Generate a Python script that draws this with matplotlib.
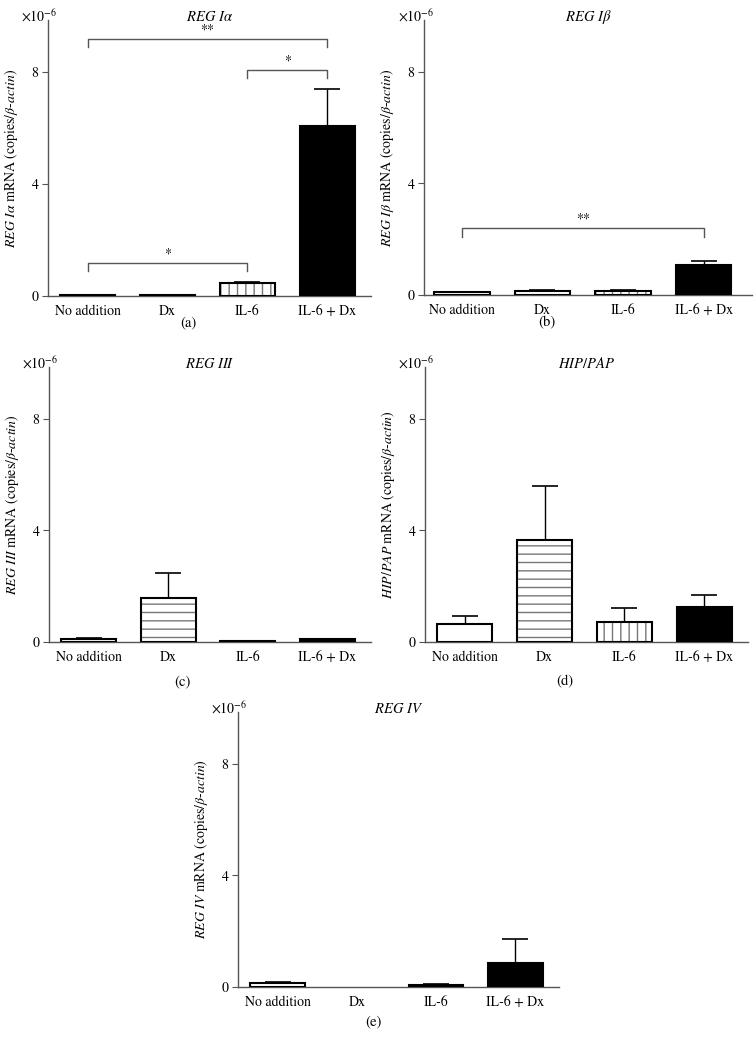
import matplotlib
matplotlib.use('Agg')
import matplotlib.pyplot as plt

plt.rcParams['font.family'] = 'STIXGeneral'
plt.rcParams['mathtext.fontset'] = 'stix'
plt.rcParams['font.size'] = 10
plt.rcParams['hatch.linewidth'] = 1.0

groups = ['No addition', 'Dx', 'IL-6', 'IL-6 + Dx']

# values in units of 1e-6 copies/beta-actin
reg1a_mean = [0.02, 0.02, 0.45, 6.07]
reg1a_err = [0.0, 0.0, 0.06, 1.32]
reg1b_mean = [0.09, 0.15, 0.14, 1.07]
reg1b_err = [0.03, 0.04, 0.05, 0.14]
reg3_mean = [0.10, 1.57, 0.02, 0.10]
reg3_err = [0.05, 0.89, 0.0, 0.02]
hip_mean = [0.64, 3.66, 0.71, 1.27]
hip_err = [0.28, 1.94, 0.50, 0.41]
reg4_mean = [0.13, 0.0, 0.08, 0.86]
reg4_err = [0.05, 0.0, 0.02, 0.85]

# significance brackets: (from, to, height, leg bottom, label)
reg1a_sig = [(0, 3, 9.18, 8.9, '**'), (2, 3, 8.07, 7.79, '*'), (0, 2, 1.18, 0.9, '*')]
reg1b_sig = [(0, 3, 2.4, 2.07, '**')]

fills = ['white', 'white', 'white', 'black']
hatches = [None, '--', '||', None]
axis_col = '#555555'

W, H = 756, 1040
fig = plt.figure(figsize=(W / 100, H / 100), dpi=100)


def make_ax(l, r, t, b):
    return fig.add_axes([l / W, 1 - b / H, (r - l) / W, (b - t) / H])


def panel(ax, mean, err, title, ylab, tag, tag_xy, sig=(), xlim=(-0.5, 3.55)):
    x = range(len(groups))
    # hatch drawn in grey, then black outline on top
    for i in x:
        if mean[i] <= 0:
            continue
        ax.bar(i, mean[i], width=0.69, color=fills[i], edgecolor='#777777',
               hatch=hatches[i], linewidth=0, zorder=2)
        ax.bar(i, mean[i], width=0.69, fill=False, edgecolor='black',
               linewidth=1.5, zorder=3)
        if err[i] > 0:
            ax.errorbar(i, mean[i], yerr=[[0], [err[i]]], color='black',
                        capsize=9.5, elinewidth=1, capthick=1.2, zorder=1)
    for a, b, h, low, lab in sig:
        ax.plot([a, a, b, b], [low, h, h, low], color=axis_col, lw=1)
        ax.text((a + b) / 2, h + 0.08, lab, ha='center', va='bottom', fontsize=10)
    ax.set_xlim(*xlim)
    ax.set_ylim(0, 9.85)
    ax.set_yticks([0, 4, 8])
    ax.set_xticks(list(x))
    ax.set_xticklabels(groups)
    ax.tick_params(axis='x', length=0, pad=6)
    ax.tick_params(axis='y', length=4, color=axis_col, direction='out', pad=3)
    for s in ['top', 'right']:
        ax.spines[s].set_visible(False)
    for s in ['left', 'bottom']:
        ax.spines[s].set_color(axis_col)
        ax.spines[s].set_linewidth(1)
    ax.set_ylabel(ylab, fontsize=10, labelpad=8)
    ax.text(0.5, 1.012, title, transform=ax.transAxes, ha='center', va='center',
            fontsize=10.5)
    ax.text(0.03, 1.015, r'$\times10^{-6}$', transform=ax.transAxes, ha='right',
            va='center', fontsize=10)
    fig.text(tag_xy[0] / W, 1 - tag_xy[1] / H, tag, ha='center', va='center',
             fontsize=10.5)


ax = make_ax(48, 371, 20, 296)
panel(ax, reg1a_mean, reg1a_err, r'$\mathit{REG\ I\alpha}$',
      r'$\mathit{REG\ I\alpha}$ mRNA (copies/$\mathit{\beta}$-$\mathit{actin}$)',
      '(a)', (188, 323), reg1a_sig)

ax = make_ax(424, 752, 20, 295)
panel(ax, reg1b_mean, reg1b_err, r'$\mathit{REG\ I\beta}$',
      r'$\mathit{REG\ I\beta}$ mRNA (copies/$\mathit{\beta}$-$\mathit{actin}$)',
      '(b)', (547, 323), reg1b_sig, xlim=(-0.47, 3.6))

ax = make_ax(49, 371, 367, 642)
panel(ax, reg3_mean, reg3_err, r'$\mathit{REG\ III}$',
      r'$\mathit{REG\ III}$ mRNA (copies/$\mathit{\beta}$-$\mathit{actin}$)',
      '(c)', (182, 682))

ax = make_ax(425, 748, 367, 642)
panel(ax, hip_mean, hip_err, r'$\mathit{HIP/PAP}$',
      r'$\mathit{HIP/PAP}$ mRNA (copies/$\mathit{\beta}$-$\mathit{actin}$)',
      '(d)', (565, 682))

ax = make_ax(238, 559, 712, 987)
panel(ax, reg4_mean, reg4_err, r'$\mathit{REG\ IV}$',
      r'$\mathit{REG\ IV}$ mRNA (copies/$\mathit{\beta}$-$\mathit{actin}$)',
      '(e)', (373, 1022))

fig.savefig('out.png', dpi=100)
